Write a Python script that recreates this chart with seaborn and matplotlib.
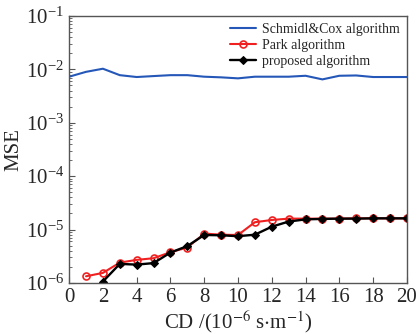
import numpy as np
import pandas as pd
import seaborn as sns
import matplotlib
matplotlib.use("Agg")
import matplotlib.pyplot as plt

cd_sc = list(range(0, 21))
mse_sc = [7.3e-3, 9.0e-3, 1.03e-2, 7.8e-3, 7.2e-3, 7.5e-3, 7.8e-3, 7.8e-3, 7.3e-3, 7.1e-3,
          6.8e-3, 7.3e-3, 7.3e-3, 7.3e-3, 7.6e-3, 6.5e-3, 7.6e-3, 7.7e-3, 7.2e-3, 7.2e-3, 7.2e-3]

cd_park = list(range(1, 21))
mse_park = [1.33e-6, 1.54e-6, 2.4e-6, 2.7e-6, 2.9e-6, 3.76e-6, 4.6e-6, 8.4e-6, 8.0e-6, 7.9e-6,
            1.37e-5, 1.51e-5, 1.6e-5, 1.6e-5, 1.6e-5, 1.6e-5, 1.62e-5, 1.62e-5, 1.62e-5, 1.62e-5]

cd_prop = list(range(2, 21))
mse_prop = [1.06e-6, 2.27e-6, 2.2e-6, 2.35e-6, 3.7e-6, 4.9e-6, 7.9e-6, 7.8e-6, 7.5e-6,
            8.0e-6, 1.13e-5, 1.41e-5, 1.55e-5, 1.58e-5, 1.6e-5, 1.6e-5, 1.62e-5, 1.62e-5, 1.62e-5]

sns.set_style("ticks")
plt.rcParams["font.family"] = ["Liberation Serif", "DejaVu Serif"]
plt.rcParams["mathtext.fontset"] = "stix"

fig = plt.figure(figsize=(4.19, 3.34), dpi=100)
ax = fig.add_axes([0.165, 0.153, 0.806, 0.799])

sns.lineplot(x=cd_sc, y=mse_sc, ax=ax, color="#2457b8", lw=1.5,
             label="Schmidl&Cox algorithm")
sns.lineplot(x=cd_park, y=mse_park, ax=ax, color="#f02020", lw=1.5, marker="o",
             markersize=5, markerfacecolor="none", markeredgecolor="#f02020",
             markeredgewidth=1.2, label="Park algorithm")
sns.lineplot(x=cd_prop, y=mse_prop, ax=ax, color="black", lw=1.7, marker="D",
             markersize=3.8, markerfacecolor="black", markeredgecolor="black",
             label="proposed algorithm")

ax.set_yscale("log")
ax.set_ylim(1e-6, 1e-1)
ax.set_xlim(0, 20)
ax.set_xticks(range(0, 21, 2))
ax.tick_params(direction="in", labelsize=15, length=4, top=False, right=False,
               color="#555555")
ax.tick_params(which="minor", direction="in", length=2, color="#555555")
for s in ax.spines.values():
    s.set_linewidth(1.0)
    s.set_color("#555555")

ax.set_xlabel(r"CD /(10$^{-6}$ s$\cdot$m$^{-1}$)", fontsize=15, labelpad=1)
ax.set_ylabel("MSE", fontsize=15, labelpad=2)

leg = ax.legend(loc="upper right", frameon=False, fontsize=10, handlelength=1.9,
                borderaxespad=0.1, labelspacing=0.2, handletextpad=0.45)

fig.savefig("out.png", dpi=100)
